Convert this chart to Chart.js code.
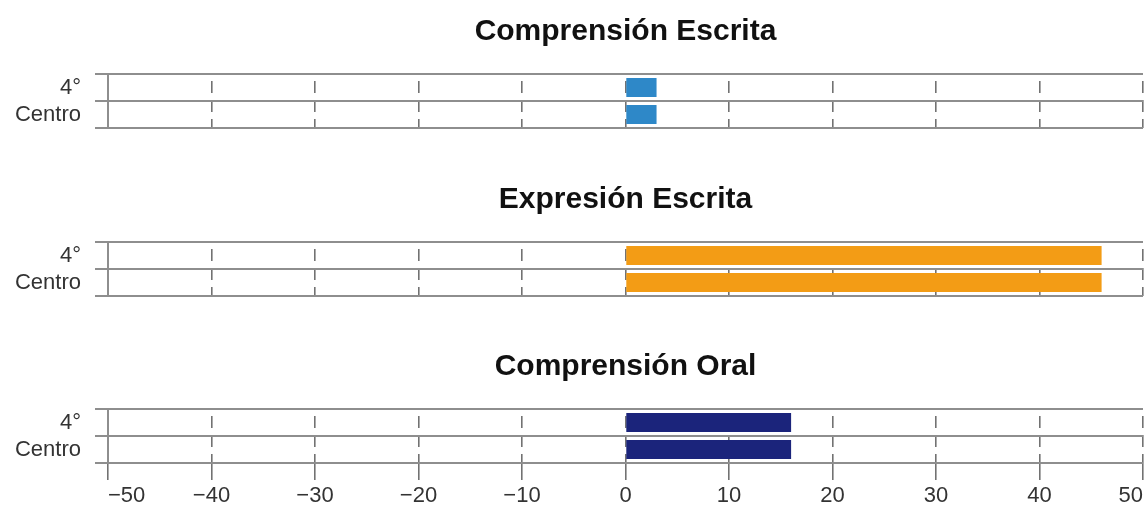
<!DOCTYPE html>
<html>
<head>
<meta charset="utf-8">
<script src="https://cdn.jsdelivr.net/npm/chart.js@4"></script>
<style>
  html, body { margin: 0; padding: 0; background: #ffffff; }
  body { width: 1144px; height: 507px; position: relative; overflow: hidden; }
  .panel { position: absolute; left: 0; width: 1144px; }
  .panel canvas { display: block; }
</style>
</head>
<body>
<div class="panel" id="p1" style="top:0px;height:140px;"><canvas id="c1"></canvas></div>
<div class="panel" id="p2" style="top:168px;height:140px;"><canvas id="c2"></canvas></div>
<div class="panel" id="p3" style="top:335px;height:172px;"><canvas id="c3"></canvas></div>
<script>
// ---- data ----
const panelTitles = ['Comprensión Escrita', 'Expresión Escrita', 'Comprensión Oral'];
const categories = ['4°', 'Centro'];
const comprensionEscrita = [3, 3];
const expresionEscrita = [46, 46];
const comprensionOral = [16, 16];
const xTickValues = [-50, -40, -30, -20, -10, 0, 10, 20, 30, 40, 50];
const xTickLabels = ['\u221250', '\u221240', '\u221230', '\u221220', '\u221210', '0', '10', '20', '30', '40', '50'];
const panelColors = ['#2e88c8', '#f39c15', '#1b247b'];

const panelSeries = [comprensionEscrita, expresionEscrita, comprensionOral];
const FONT = "'Liberation Sans', Arial, Helvetica, sans-serif";
const GRID_GREY = '#8e8e8e';

function makeChart(idx) {
  const isLast = idx === panelSeries.length - 1;
  const canvasH = isLast ? 172 : 140;
  const areaBottom = 128;
  const ctx = document.getElementById('c' + (idx + 1));
  return new Chart(ctx, {
    type: 'bar',
    data: {
      labels: categories,
      datasets: [{
        label: panelTitles[idx],
        data: panelSeries[idx],
        backgroundColor: panelColors[idx],
        borderWidth: 0,
        barPercentage: 0.9,
        categoryPercentage: 0.78
      }]
    },
    options: {
      indexAxis: 'y',
      responsive: true,
      maintainAspectRatio: false,
      animation: false,
      layout: {
        padding: { left: 0, right: 1, top: 0, bottom: isLast ? 0 : canvasH - areaBottom }
      },
      plugins: {
        legend: { display: false },
        tooltip: { enabled: false },
        title: {
          display: true,
          fullSize: false,
          text: panelTitles[idx],
          color: '#111111',
          font: { family: FONT, size: 30, weight: 'bold', lineHeight: 1.2 },
          padding: { top: 14, bottom: 24 }
        }
      },
      scales: {
        x: {
          type: 'linear',
          min: -50,
          max: 50,
          afterBuildTicks: (scale) => { scale.ticks = xTickValues.map(v => ({ value: v })); },
          afterFit: (scale) => {
            scale.height = isLast ? canvasH - areaBottom : 0;
            scale.paddingLeft = 0; scale.paddingRight = 0;
          },
          grid: {
            display: true,
            drawOnChartArea: true,
            drawTicks: isLast,
            tickLength: 17,
            color: '#727272',
            lineWidth: 1.6,
            tickColor: '#727272',
            tickWidth: 1.6,
            tickBorderDash: [],
            tickBorderDashOffset: 0
          },
          border: { display: false, dash: [12, 7], dashOffset: 12 },
          ticks: {
            display: isLast,
            align: 'inner',
            padding: 3,
            color: '#333333',
            font: { family: FONT, size: 22 },
            maxRotation: 0,
            autoSkip: false,
            callback: function (value) {
              const i = xTickValues.indexOf(value);
              return i >= 0 ? xTickLabels[i] : '';
            }
          }
        },
        y: {
          type: 'category',
          offset: true,
          afterFit: (scale) => {
            scale.width = 108;
            scale.paddingTop = 0; scale.paddingBottom = 0;
          },
          grid: {
            display: true,
            offset: true,
            color: GRID_GREY,
            lineWidth: 2,
            drawTicks: true,
            tickLength: 13,
            tickColor: GRID_GREY,
            tickWidth: 2
          },
          border: { display: true, color: GRID_GREY, width: 2 },
          ticks: {
            color: '#333333',
            padding: 14,
            autoSkip: false,
            font: { family: FONT, size: 22, lineHeight: 1.0 }
          }
        }
      }
    }
  });
}

panelSeries.forEach((_, i) => makeChart(i));
</script>
</body>
</html>
